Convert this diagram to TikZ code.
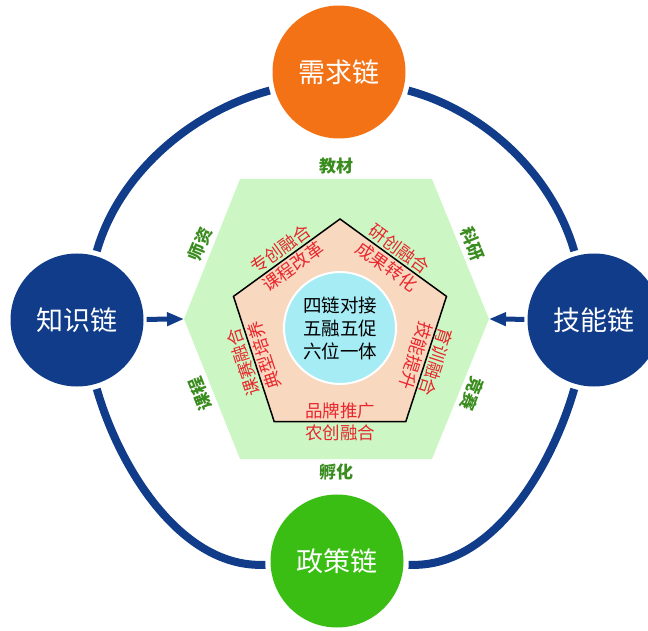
\documentclass[tikz,border=0pt]{standalone}
\usepackage{fontspec}
\usepackage{tikz}
\usetikzlibrary{arrows.meta,calc}
\newfontfamily\cjk{Noto Sans CJK SC}
\definecolor{navy}{RGB}{16,60,138}
\definecolor{chainorange}{RGB}{244,114,22}
\definecolor{chaingreen}{RGB}{58,190,20}
\definecolor{hexgreen}{RGB}{204,247,196}
\definecolor{pentpeach}{RGB}{249,216,192}
\definecolor{corecyan}{RGB}{166,236,245}
\definecolor{labred}{RGB}{232,38,45}
\definecolor{labgreen}{RGB}{58,140,31}

\begin{document}
\begin{tikzpicture}[x=1pt,y=1pt,font=\cjk,
    chainnode/.style={circle,minimum size=133pt,inner sep=0pt,text=white,
                      font=\cjk\fontsize{27}{30}\selectfont},
    linkring/.style={draw=navy,line width=8pt,shorten >=5pt,shorten <=5pt,looseness=0.9},
    flow/.style={-{Triangle[length=17pt,width=13pt]},draw=navy,line width=5pt,shorten <=3pt},
    redlbl/.style={text=labred,inner sep=2.5pt,font=\cjk\fontsize{17.5}{19}\selectfont},
    greenlbl/.style={text=labgreen,inner sep=4.5pt,font=\cjk\bfseries\fontsize{17}{19}\selectfont}]

  \useasboundingbox (0,0) rectangle (648,-631);

  % hexagon
  \coordinate (hTL) at (240,-179);
  \coordinate (hTR) at (432,-179);
  \coordinate (hR)  at (489,-319);
  \coordinate (hBR) at (432,-459);
  \coordinate (hBL) at (240,-459);
  \coordinate (hL)  at (184,-319);
  \fill[hexgreen] (hTL) -- (hTR) -- (hR) -- (hBR) -- (hBL) -- (hL) -- cycle;

  \node[greenlbl,anchor=south]               at ($(hTL)!.5!(hTR)$) {教材};
  \node[greenlbl,anchor=south,rotate=-67.8]  at ($(hTR)!.5!(hR)$)  {科研};
  \node[greenlbl,anchor=south,rotate=-112.2] at ($(hR)!.5!(hBR)$)  {竞赛};
  \node[greenlbl,anchor=north]               at ($(hBR)!.5!(hBL)$) {孵化};
  \node[greenlbl,anchor=south,rotate=111.8]  at ($(hBL)!.5!(hL)$)  {课程};
  \node[greenlbl,anchor=south,rotate=68.2]   at ($(hL)!.5!(hTL)$)  {师资};

  % pentagon
  \coordinate (pT)  at (340,-219);
  \coordinate (pUR) at (446.5,-296.4);
  \coordinate (pLR) at (405.8,-421.6);
  \coordinate (pLL) at (274.2,-421.6);
  \coordinate (pUL) at (233.5,-296.4);
  \filldraw[fill=pentpeach,draw=black,line width=1.5pt]
    (pT) -- (pUR) -- (pLR) -- (pLL) -- (pUL) -- cycle;

  \node[redlbl,anchor=south,rotate=36]   at ($(pUL)!.5!(pT)$)  {专创融合};
  \node[redlbl,anchor=north,rotate=36]   at ($(pUL)!.5!(pT)$)  {课程改革};
  \node[redlbl,anchor=south,rotate=-36]  at ($(pT)!.5!(pUR)$)  {研创融合};
  \node[redlbl,anchor=north,rotate=-36]  at ($(pT)!.5!(pUR)$)  {成果转化};
  \node[redlbl,anchor=south,rotate=-108] at ($(pUR)!.5!(pLR)$) {育训融合};
  \node[redlbl,anchor=north,rotate=-108] at ($(pUR)!.5!(pLR)$) {技能提升};
  \node[redlbl,anchor=south]             at ($(pLL)!.5!(pLR)$) {品牌推广};
  \node[redlbl,anchor=north]             at ($(pLL)!.5!(pLR)$) {农创融合};
  \node[redlbl,anchor=south,rotate=108]  at ($(pLL)!.5!(pUL)$) {课赛融合};
  \node[redlbl,anchor=north,rotate=108]  at ($(pLL)!.5!(pUL)$) {典型培养};

  \node[circle,fill=corecyan,draw=white,line width=2pt,minimum size=112pt,align=center,
        font=\cjk\fontsize{18.5}{23}\selectfont] (core) at (340,-328)
        {四链对接\\五融五促\\六位一体};

  % four chains
  \node[chainnode,fill=chainorange] (need)      at (339,-72)  {需求链};
  \node[chainnode,fill=navy]        (skill)     at (594,-320) {技能链};
  \node[chainnode,fill=chaingreen]  (policy)    at (337,-561) {政策链};
  \node[chainnode,fill=navy]        (knowledge) at (77,-320)  {知识链};

  \draw[linkring] (need)      to[out=-15,in=106]  (skill);
  \draw[linkring] (skill)     to[out=-106,in=-3]  (policy);
  \draw[linkring] (policy)    to[out=183,in=-74]  (knowledge);
  \draw[linkring] (knowledge) to[out=74,in=195]   (need);

  \draw[flow] (knowledge) -- (hL);
  \draw[flow] (skill) -- (hR);
\end{tikzpicture}
\end{document}
